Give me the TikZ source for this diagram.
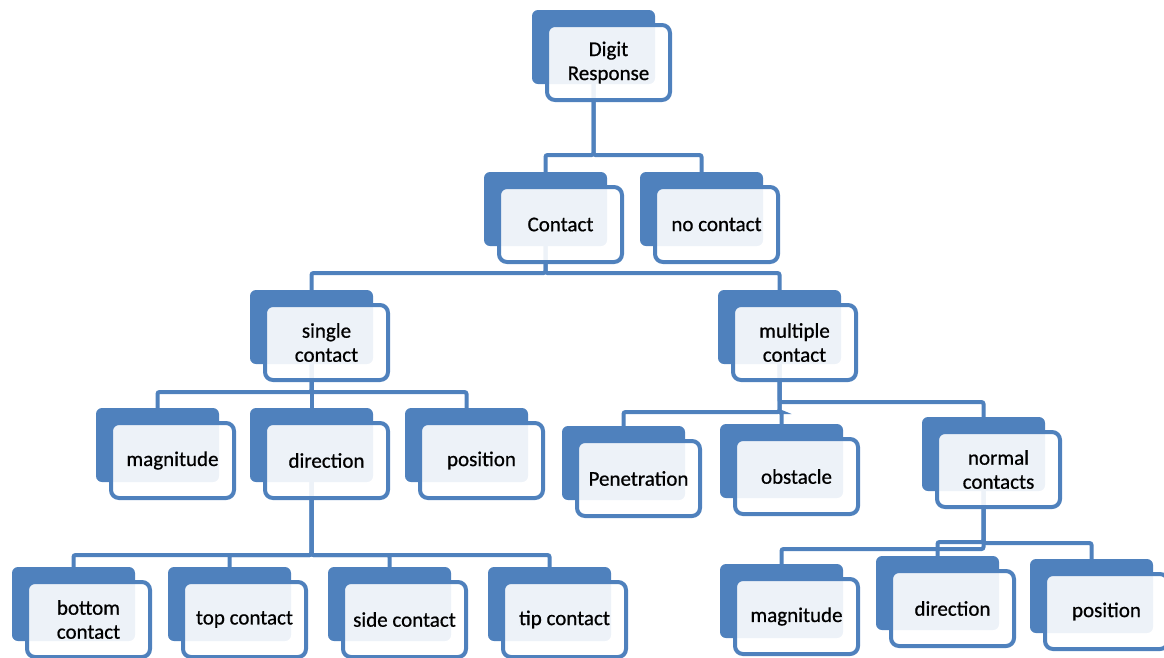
\documentclass[tikz,border=0pt]{standalone}
\usepackage{fontspec}
\setmainfont{Carlito}[FakeBold=0.7]
\usetikzlibrary{calc,backgrounds}
\definecolor{sablue}{HTML}{4F81BD}
\tikzset{
  backbox/.style={fill=sablue, rounded corners=6pt, minimum width=123pt, minimum height=74pt, inner sep=0pt},
  frontbox/.style={draw=sablue, line width=4pt, fill=white, fill opacity=0.9, text opacity=1,
    rounded corners=8pt, minimum width=123pt, minimum height=75pt, inner sep=0pt,
    align=center, font=\fontsize{21}{24}\selectfont},
  conn/.style={draw=sablue, line width=4pt, rounded corners=2pt}
}
\newcommand\sanode[3]{%
  \node[backbox] (#1-b) at ($(#2)+(-15,-15.5)$) {};
  \node[frontbox] (#1) at (#2) {#3};}
\begin{document}
\begin{tikzpicture}[x=1pt,y=-1pt]
\useasboundingbox (0,0) rectangle (1164,657);
\sanode{dr}{608.5,62.5}{Digit\\Response}
\sanode{ct}{560.5,224.5}{Contact}
\sanode{nc}{716.5,224.5}{no contact}
\sanode{sc}{326.5,342.5}{single\\contact}
\sanode{mc}{794.5,342.5}{multiple\\contact}
\sanode{mga}{172.5,460.5}{magnitude}
\sanode{dira}{326.5,460.5}{direction}
\sanode{posa}{481.5,460.5}{position}
\sanode{pen}{638.5,478.5}{Penetration}
\sanode{obs}{796.5,476.5}{obstacle}
\sanode{nor}{998.5,469.5}{normal\\contacts}
\sanode{bot}{88.5,619.5}{bottom\\contact}
\sanode{top}{244.5,619.5}{top contact}
\sanode{side}{404.5,619.5}{side contact}
\sanode{tip}{564.5,619.5}{tip contact}
\sanode{mgb}{796.5,616.5}{magnitude}
\sanode{dirb}{952.5,608.5}{direction}
\sanode{posb}{1106.5,611.5}{position}
\begin{pgfonlayer}{background}
\draw[conn] (dr-b.center) -- (dr-b.center |- 0,155) -| (ct-b.north);
\draw[conn] (dr-b.center) -- (dr-b.center |- 0,155) -| (nc-b.north);
\draw[conn] (ct-b.center) -- (ct-b.center |- 0,273) -| (sc-b.north);
\draw[conn] (ct-b.center) -- (ct-b.center |- 0,273) -| (mc-b.north);
\draw[conn] (sc-b.center) -- (sc-b.center |- 0,392) -| (mga-b.north);
\draw[conn] (sc-b.center) -- (dira-b.north);
\draw[conn] (sc-b.center) -- (sc-b.center |- 0,392) -| (posa-b.north);
\draw[conn] (mc-b.center) -- (mc-b.center |- 0,412) -| (pen-b.north);
\draw[conn] (mc-b.center) -- (mc-b.center |- 0,412) -| (obs-b.north);
\draw[conn] (mc-b.center) -- (mc-b.center |- 0,402) -| (nor-b.north);
\draw[conn] (dira-b.center) -- (dira-b.center |- 0,555) -| (bot-b.north);
\draw[conn] (dira-b.center) -- (dira-b.center |- 0,555) -| (top-b.north);
\draw[conn] (dira-b.center) -- (dira-b.center |- 0,555) -| (side-b.north);
\draw[conn] (dira-b.center) -- (dira-b.center |- 0,555) -| (tip-b.north);
\draw[conn] (nor-b.center) -- (nor-b.center |- 0,549) -| (mgb-b.north);
\draw[conn] (nor-b.center) -- (nor-b.center |- 0,542) -| (dirb-b.north);
\draw[conn] (nor-b.center) -- (nor-b.center |- 0,543) -| (posb-b.north);
\end{pgfonlayer}
\end{tikzpicture}
\end{document}
